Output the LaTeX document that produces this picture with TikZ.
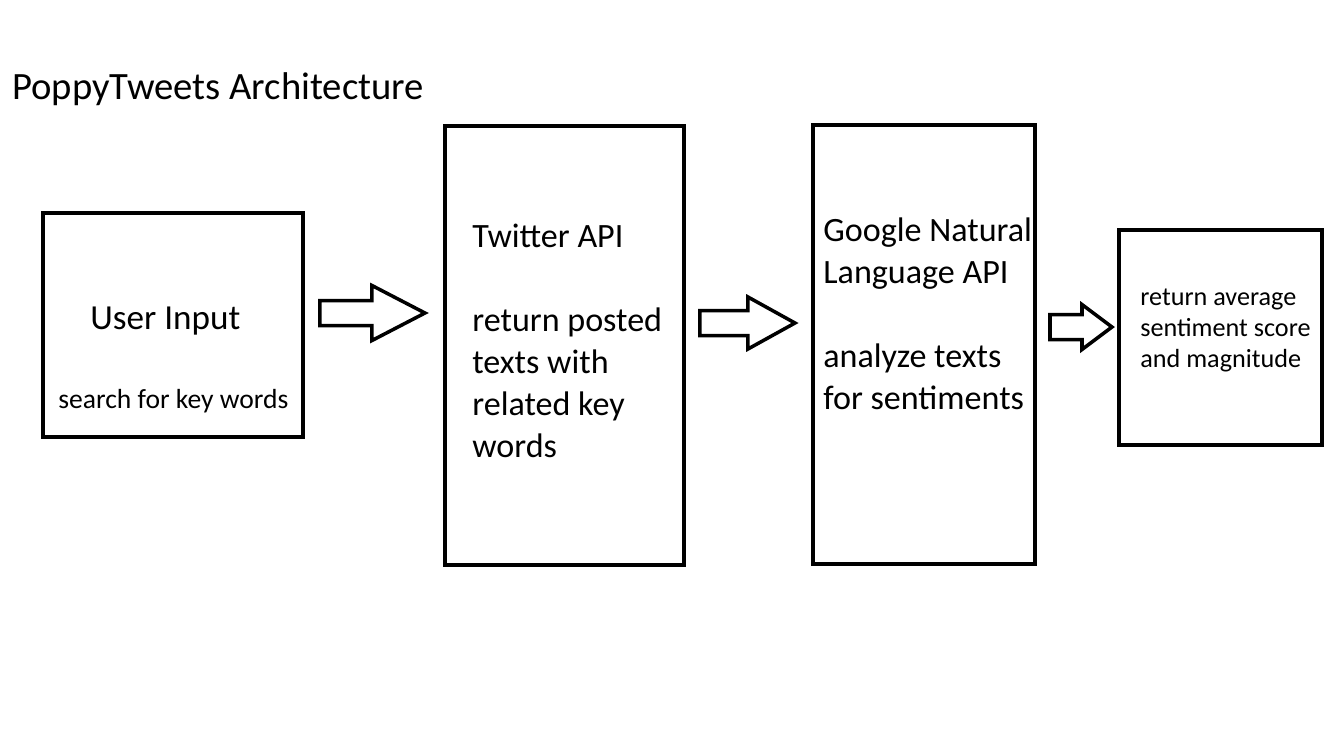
\documentclass[tikz,border=0pt]{standalone}
\usepackage{fontspec}
\setmainfont{Carlito}
\usetikzlibrary{positioning,calc}

% block arrow: start, length, half shaft, half head, head length
\newcommand{\flowarrow}[5]{%
  \draw[bigarrow] ($#1+(0,-#3)$) -- ++({#2-#5},0) -- ++(0,{#3-#4}) -- ++(#5,#4)
    -- ++(-#5,#4) -- ++(0,{#3-#4}) -- ++({#5-#2},0) -- cycle;}

\tikzset{
  box/.style={draw, line width=2.3pt, rectangle, inner sep=0pt, outer sep=0pt},
  bigarrow/.style={line width=2pt, line join=miter},
  words/.style={anchor=base west, inner sep=0pt, align=left}
}

\begin{document}
\begin{tikzpicture}[x=0.02cm, y=-0.02cm]
        \useasboundingbox (0,0) rectangle (1328,738);

        % Title
        \node[words, font=\fontsize{22}{26}\selectfont] (title) at (12,99) {PoppyTweets Architecture};

        % Draw the boxes
        \node[box, minimum width=5.2cm, minimum height=4.48cm] (user) at (173,325) {};
        \node[box, minimum width=4.78cm, minimum height=8.78cm] (twitter) at (564.5,345.5) {};
        \node[box, minimum width=4.44cm, minimum height=8.78cm] (google) at (924,344.5) {};
        \node[box, minimum width=4.06cm, minimum height=4.3cm] (result) at (1220.5,337.5) {};

        % Texts in the boxes (base = last line)
        \node[words, font=\fontsize{20}{24}\selectfont] (usertitle) at (90,329) {User Input};
        \node[words, font=\fontsize{15.7}{18}\selectfont] (usertext) at (58,408) {search for key words};
        \node[words, font=\fontsize{19.4}{23.8}\selectfont] (twittertext) at (472,457)
            {Twitter API\\[23.8pt] return posted\\ texts with\\ related key\\ words};
        \node[words, font=\fontsize{19.4}{23.8}\selectfont] (googletext) at (823,409)
            {Google Natural\\ Language API\\[23.8pt] analyze texts\\ for sentiments};
        \node[words, font=\fontsize{14.9}{17.4}\selectfont] (resulttext) at (1140,367)
            {return average\\ sentiment score\\ and magnitude};

        % Draw the block arrows between the boxes
        \flowarrow{(user.east)+(17,-12)}{105}{12.5}{27.5}{53}
        \flowarrow{(twitter.east)+(16,-22.5)}{95}{12.5}{26}{47}
        \flowarrow{(google.east)+(15,-17.5)}{62}{12.5}{22.5}{30}
    \end{tikzpicture}
\end{document}
